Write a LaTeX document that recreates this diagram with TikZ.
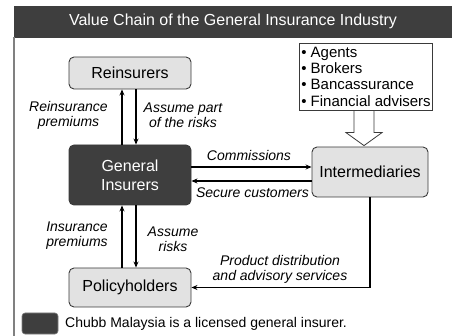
\documentclass[tikz,border=0pt]{standalone}
\usepackage{fontspec}
\setmainfont{Liberation Sans}
\usetikzlibrary{arrows.meta,calc}
\definecolor{darkfill}{HTML}{3E3E3E}
\definecolor{lightfill}{HTML}{E2E2E2}
\definecolor{edgegray}{HTML}{3A3A3A}
\definecolor{framegray}{HTML}{808080}
\begin{document}
\begin{tikzpicture}[x=1pt,y=-1pt,
  titlebar/.style={fill=darkfill,draw=darkfill,line width=0.8pt,text=white,
    minimum width=438pt,minimum height=31pt,inner sep=0pt,
    font=\fontsize{16}{19}\selectfont},
  entity/.style={draw=edgegray,fill=lightfill,rounded corners=5pt,line width=0.9pt,
    minimum width=122pt,inner sep=0pt,align=center,
    font=\fontsize{16}{19}\selectfont},
  core/.style={entity,fill=darkfill,text=white},
  listbox/.style={draw=edgegray,fill=white,line width=0.8pt,align=left,
    minimum width=133pt,minimum height=67pt,inner sep=0pt,
    font=\fontsize{15}{16.4}\selectfont},
  flow/.style={line width=1.4pt,-{Stealth[length=6pt,width=5pt]}},
  lbl/.style={align=center,inner sep=0pt,font=\fontsize{14}{15}\selectfont\itshape},
  hollow/.style={draw=edgegray,fill=white,line width=0.8pt,line join=miter},
  legendkey/.style={draw=framegray,fill=darkfill,rounded corners=3pt,line width=0.6pt,
    minimum width=36pt,minimum height=21pt,inner sep=0pt},
  legendtext/.style={anchor=west,inner sep=0pt,font=\fontsize{14}{16}\selectfont}]
\useasboundingbox (0,0) rectangle (452,336);

% heading and left rule
\node[titlebar] (title) at (233,21.5) {Value Chain of the General Insurance Industry};
\coordinate (ruletop) at (14,37);
\coordinate (rulebot) at (14,336);
\draw[framegray,line width=1.2pt] (ruletop) -- (rulebot);

% parties
\node[entity,minimum height=32pt] (rein) at (130,73) {Reinsurers};
\node[core,minimum height=60pt] (gen) at (130,175) {General\\Insurers};
\node[entity,minimum width=116pt,minimum height=50pt] (int) at (370,172) {Intermediaries};
\node[entity,minimum height=39pt] (pol) at (130,287.5) {Policyholders};

% kinds of intermediaries
\node[listbox] (list) at (366,76.7) {%
  \textbullet\ Agents\\
  \textbullet\ Brokers\\
  \textbullet\ Bancassurance\\
  \textbullet\ Financial advisers};

% hollow arrow from the list into the intermediaries box
\coordinate (ha) at ($(list.south)+(-2,0)$);
\draw[hollow] ($(ha)+(-10,0)$) -- ($(ha)+(10,0)$) -- ($(ha)+(10,22)$) -- ($(ha)+(18,22)$)
  -- ($(ha)+(0,35)$) -- ($(ha)+(-18,22)$) -- ($(ha)+(-10,22)$) -- cycle;

% reinsurers <-> general insurers
\draw[flow] ([xshift=-8pt]gen.north) -- ([xshift=-8pt]rein.south);
\draw[flow] ([xshift=6pt]rein.south) -- ([xshift=6pt]gen.north);
\node[lbl] (l1) at (68.5,115) {Reinsurance\\premiums};
\node[lbl] (l2) at (183,115) {Assume part\\of the risks};

% general insurers <-> intermediaries
\draw[flow] ([yshift=8pt]gen.east) -- ([yshift=8pt]gen.east -| int.west);
\draw[flow] ([yshift=-6pt]gen.east -| int.west) -- ([yshift=-6pt]gen.east);
\node[lbl] (l3) at (249,155) {Commissions};
\node[lbl] (l4) at (252.5,193) {Secure customers};

% general insurers <-> policyholders
\draw[flow] ([xshift=-8pt]pol.north) -- ([xshift=-8pt]gen.south);
\draw[flow] ([xshift=6pt]gen.south) -- ([xshift=6pt]pol.north);
\node[lbl] (l5) at (77,235.5) {Insurance\\premiums};
\node[lbl] (l6) at (173,239) {Assume\\risks};

% intermediaries -> policyholders
\draw[flow] (int.south) |- (pol.east);
\node[lbl] (l7) at (280,269) {Product distribution\\and advisory services};

% legend
\node[legendkey] (key) at (40,323.5) {};
\node[legendtext] (keytext) at (65,323.5) {Chubb Malaysia is a licensed general insurer.};
\end{tikzpicture}
\end{document}
